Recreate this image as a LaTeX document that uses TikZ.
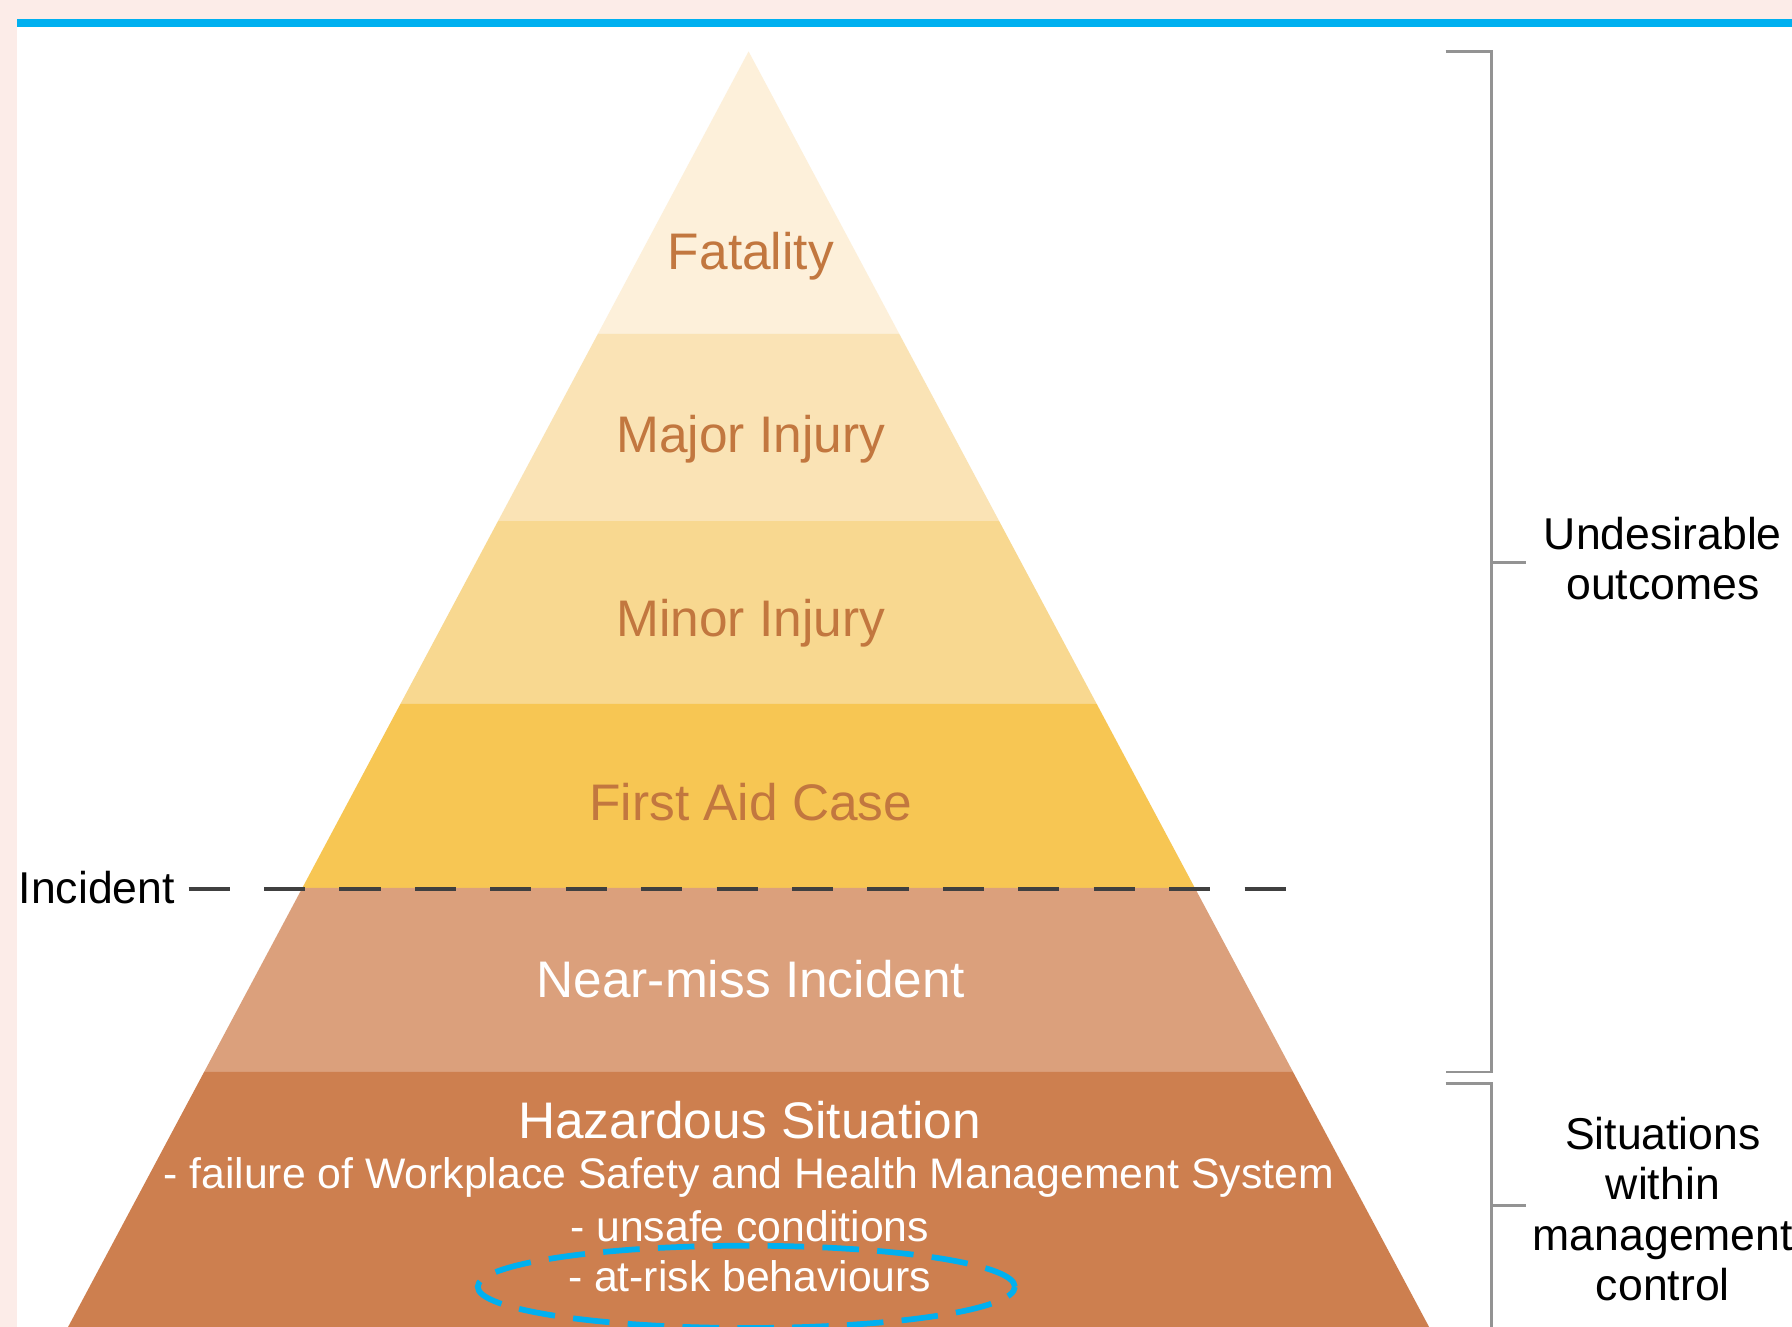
\documentclass[tikz,border=0pt]{standalone}
\usepackage{fontspec}
\setmainfont{Liberation Sans}
\usepackage{xcolor}
\usepackage{tikz}
\usetikzlibrary{positioning, calc}
\definecolor{pinkbg}{HTML}{FCECE8}
\definecolor{topblue}{HTML}{00B0F0}
\definecolor{fatal_col}{HTML}{FDF0DA}
\definecolor{major_col}{HTML}{FAE3B5}
\definecolor{minor_col}{HTML}{F8D890}
\definecolor{aid_col}{HTML}{F7C653}
\definecolor{near_col}{HTML}{DBA07C}
\definecolor{hazard_col}{HTML}{CD7F4F}
\definecolor{label_col}{HTML}{C2773F}
\tikzset{
    layer_text/.style = {inner sep=0pt, text centered, text=label_col,
        font=\fontsize{22.5}{27}\selectfont},
    light_text/.style = {layer_text, text=white},
    small_text/.style = {inner sep=0pt, text centered, text=white,
        font=\fontsize{18.7}{22}\selectfont},
    side_text/.style = {inner sep=0pt, align=center, text=black,
        font=\fontsize{19.5}{22}\selectfont},
    bracket/.style = {draw=gray!85, line width=1.25pt},
}

\begin{document}
\begin{tikzpicture}[x=0.5pt, y=0.5pt]
            \useasboundingbox (0,0) rectangle (1568,1161);
            \fill[pinkbg] (0,0) rectangle (1568,1161);
            \fill[white] (15,0) rectangle (1568,1140);
            \draw[topblue, line width=3.5pt] (15,1140.5) -- (1568,1140.5);
            % layers of the pyramid, apex at (655,1116)
            \foreach \yhi/\ylo/\col in {1116/869/fatal_col, 869/705/major_col,
                705/545/minor_col, 545/384/aid_col, 384/223/near_col, 223/0/hazard_col}{
                \pgfmathsetmacro\wt{0.5335*(1116-\yhi)}
                \pgfmathsetmacro\wb{0.5335*(1116-\ylo)}
                \fill[\col] (655-\wt,\yhi) -- (655+\wt,\yhi) -- (655+\wb,\ylo) -- (655-\wb,\ylo) -- cycle;
            }
            \node (fatal) [layer_text] at (657,937) {Fatality};
            \node (major) [layer_text] at (657,777) {Major Injury};
            \node (minor) [layer_text] at (657,616) {Minor Injury};
            \node (aid) [layer_text] at (657,459) {First Aid Case};
            \node (near) [light_text] at (657,304) {Near-miss Incident};
            \node (hazard) [light_text] at (656,181) {Hazardous Situation};
            \node (failure) [small_text] at (655,131) {- failure of Workplace Safety and Health Management System};
            \node (unsafe) [small_text] at (656,88) {- unsafe conditions};
            \node (atrisk) [small_text] at (656,44) {- at-risk behaviours};
            \draw[topblue, line width=2.5pt, dash pattern=on 16pt off 8pt] (653,35) ellipse [x radius=235, y radius=36];
            % incident line
            \node (incident) [side_text, anchor=west] at (16,384) {Incident};
            \coordinate (dash_start) at (165,383);
            \coordinate (dash_end) at (1127,383);
            \draw[black!75, line width=1.75pt, dash pattern=on 18pt off 15pt] (dash_start) -- (dash_end);
            % brackets on the right
            \draw[bracket] (1265,1116) -- (1305,1116) -- (1305,223) -- (1265,223);
            \draw[bracket] (1305,669) -- (1335,669);
            \draw[bracket] (1265,213) -- (1305,213) -- (1305,-5);
            \draw[bracket] (1305,106) -- (1335,106);
            \node (undesired) [side_text] at (1455,672) {Undesirable\\outcomes};
            \node (situations) [side_text] at (1455,103) {Situations\\within\\management\\control};
\end{tikzpicture}
\end{document}
